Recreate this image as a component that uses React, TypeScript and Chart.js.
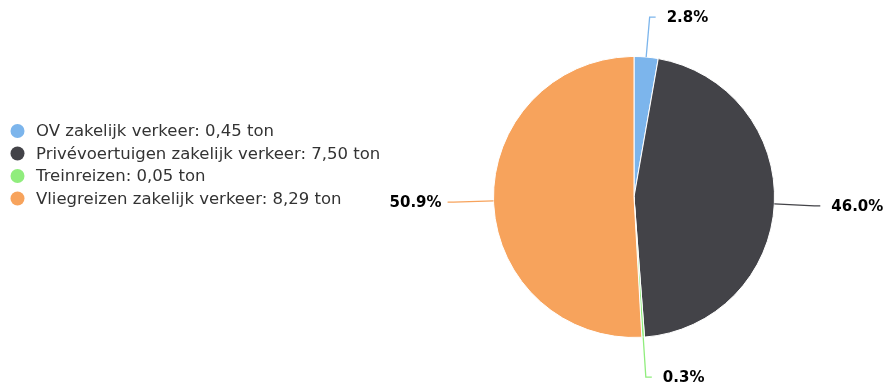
import React, { useEffect, useRef } from "react";
import { Chart, registerables } from "chart.js";

Chart.register(...registerables);

const categories = [
  "OV zakelijk verkeer",
  "Privévoertuigen zakelijk verkeer",
  "Treinreizen",
  "Vliegreizen zakelijk verkeer",
];
const valueLabels = ["0,45", "7,50", "0,05", "8,29"];
const values = [0.45, 7.5, 0.05, 8.29];
const unit = "ton";
const colors = ["#7cb5ec", "#434348", "#90ed7d", "#f7a35c"];

const FONT = "'DejaVu Sans', sans-serif";

const legendPlugin = {
  id: "leftLegend",
  afterDraw(chart: any) {
    const ctx = chart.ctx;
    ctx.save();
    ctx.font = `16.5px ${FONT}`;
    ctx.textBaseline = "middle";
    ctx.textAlign = "left";
    const startY = 131;
    const step = 22.5;
    categories.forEach((c, i) => {
      const y = startY + i * step;
      ctx.beginPath();
      ctx.fillStyle = colors[i];
      ctx.arc(17.5, y, 7, 0, Math.PI * 2);
      ctx.fill();
      ctx.fillStyle = "#333333";
      ctx.fillText(`${c}: ${valueLabels[i]} ${unit}`, 36, y + 1);
    });
    ctx.restore();
  },
};

const labelPlugin = {
  id: "pieLabels",
  afterDatasetsDraw(chart: any) {
    const ctx = chart.ctx;
    const meta = chart.getDatasetMeta(0);
    const data = chart.data.datasets[0].data as number[];
    const total = data.reduce((a, b) => a + b, 0);
    ctx.save();
    meta.data.forEach((arc: any, i: number) => {
      const { x, y, startAngle, endAngle, outerRadius } = arc.getProps(
        ["x", "y", "startAngle", "endAngle", "outerRadius"],
        true
      );
      const a = (startAngle + endAngle) / 2;
      const cx = Math.cos(a);
      const sy = Math.sin(a);
      const side = cx >= 0 ? 1 : -1;
      const ex = x + outerRadius * cx;
      const ey = y + outerRadius * sy;
      const d = outerRadius + 40;
      const px = x + d * cx;
      const py = y + d * sy;
      const endX = px + side * 6;
      ctx.beginPath();
      ctx.strokeStyle = colors[i];
      ctx.lineWidth = 1.3;
      ctx.moveTo(ex, ey);
      ctx.lineTo(px, py);
      ctx.lineTo(endX, py);
      ctx.stroke();
      const pct = ((data[i] / total) * 100).toFixed(1) + "%";
      ctx.font = `bold 15px ${FONT}`;
      ctx.fillStyle = "#000000";
      ctx.textBaseline = "middle";
      ctx.textAlign = side > 0 ? "left" : "right";
      ctx.fillText(pct, endX + side * (side > 0 ? 11 : 6), py + 1);
    });
    ctx.restore();
  },
};

export default function App() {
  const ref = useRef<HTMLCanvasElement | null>(null);
  useEffect(() => {
    if (!ref.current) return;
    const chart = new Chart(ref.current, {
      type: "pie",
      data: {
        labels: categories,
        datasets: [
          {
            data: values,
            backgroundColor: colors,
            borderColor: "#ffffff",
            borderWidth: 1,
            hoverOffset: 0,
            offset: 0,
          },
        ],
      },
      options: {
        animation: false,
        responsive: true,
        maintainAspectRatio: false,
        layout: { padding: { left: 474, right: 91, top: 56, bottom: 47 } },
        plugins: {
          legend: { display: false },
          tooltip: { enabled: false },
        },
      },
      plugins: [legendPlugin, labelPlugin],
    });
    return () => chart.destroy();
  }, []);
  return (
    <div
      style={{
        position: "fixed",
        left: 0,
        top: 0,
        width: 885,
        height: 385,
        background: "#ffffff",
      }}
    >
      <canvas ref={ref} />
    </div>
  );
}
